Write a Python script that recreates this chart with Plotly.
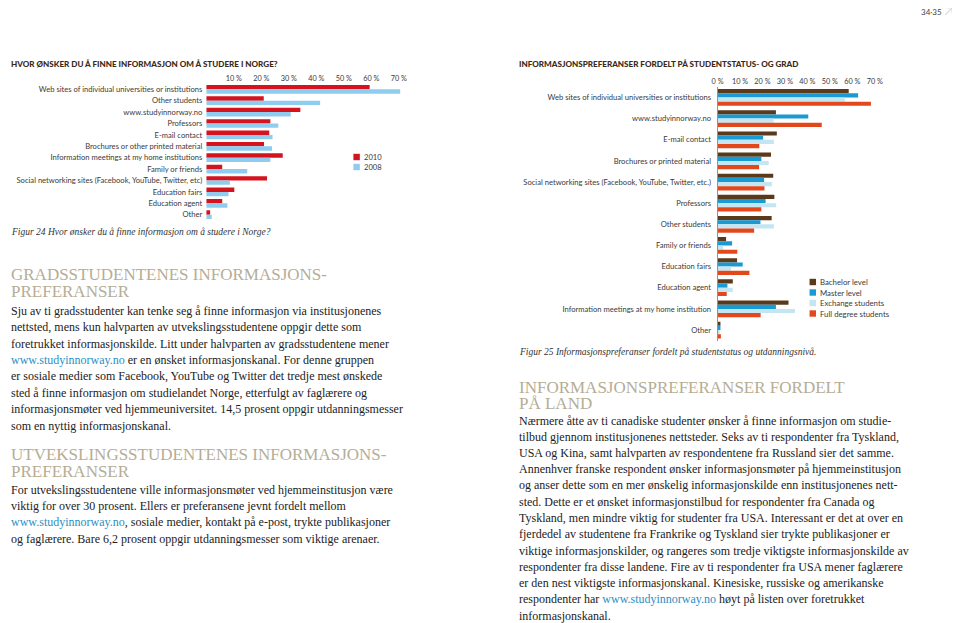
import plotly.graph_objects as go

# page body has an 8px default margin: figure is sized to fit inside the 960x623 window
MARGIN = 8
W, H = 960 - MARGIN, 623 - MARGIN

# ---------------- data ----------------
left_categories = [
    "Web sites of individual universities or institutions",
    "Other students",
    "www.studyinnorway.no",
    "Professors",
    "E-mail contact",
    "Brochures or other printed material",
    "Information meetings at my home institutions",
    "Family or friends",
    "Social networking sites (Facebook, YouTube, Twitter, etc)",
    "Education fairs",
    "Education agent",
    "Other",
]
vals_2010 = [59.4, 20.9, 34.2, 23.3, 22.9, 21.0, 27.8, 5.8, 22.1, 10.2, 5.8, 1.4]
vals_2008 = [70.5, 41.4, 30.7, 26.2, 24.1, 23.9, 23.3, 14.9, 8.6, 8.1, 7.7, 2.0]
left_series = ["2010", "2008"]
left_ticks = [10, 20, 30, 40, 50, 60, 70]

right_categories = [
    "Web sites of individual universities or institutions",
    "www.studyinnorway.no",
    "E-mail contact",
    "Brochures or printed material",
    "Social networking sites (Facebook, YouTube, Twitter, etc.)",
    "Professors",
    "Other students",
    "Family or friends",
    "Education fairs",
    "Education agent",
    "Information meetings at my home institution",
    "Other",
]
bachelor = [58.4, 26.0, 26.4, 23.8, 24.8, 25.3, 24.1, 3.8, 8.7, 6.8, 31.6, 1.3]
master = [62.6, 40.4, 20.3, 19.5, 20.7, 21.4, 19.1, 6.5, 11.2, 4.4, 26.0, 1.3]
exchange = [56.7, 25.0, 25.1, 22.8, 24.2, 26.1, 25.1, 2.5, 6.0, 6.8, 34.5, 1.0]
full_degree = [68.3, 46.4, 18.6, 18.5, 20.9, 19.5, 16.3, 8.8, 14.2, 4.1, 19.2, 1.5]
right_series = ["Bachelor level", "Master level", "Exchange students", "Full degree students"]
right_ticks = [0, 10, 20, 30, 40, 50, 60, 70]

title_left = "HVOR ØNSKER DU Å FINNE INFORMASJON OM Å STUDERE I NORGE?"
title_right = "INFORMASJONSPREFERANSER FORDELT PÅ STUDENTSTATUS- OG GRAD"
caption_left = "Figur 24 Hvor ønsker du å finne informasjon om å studere i Norge?"
caption_right = "Figur 25 Informasjonspreferanser fordelt på studentstatus og utdanningsnivå."

LINK = "<span style='color:#2b8fc4'>www.studyinnorway.no</span>"
heading1 = ["GRADSSTUDENTENES INFORMASJONS-", "PREFERANSER"]
body1 = [
    "Sju av ti gradsstudenter kan tenke seg å finne informasjon via institusjonenes",
    "nettsted, mens kun halvparten av utvekslingsstudentene oppgir dette som",
    "foretrukket informasjonskilde. Litt under halvparten av gradsstudentene mener",
    LINK + " er en ønsket informasjonskanal. For denne gruppen",
    "er sosiale medier som Facebook, YouTube og Twitter det tredje mest ønskede",
    "sted å finne informasjon om studielandet Norge, etterfulgt av faglærere og",
    "informasjonsmøter ved hjemmeuniversitet. 14,5 prosent oppgir utdanningsmesser",
    "som en nyttig informasjonskanal.",
]
heading2 = ["UTVEKSLINGSSTUDENTENES INFORMASJONS-", "PREFERANSER"]
body2 = [
    "For utvekslingsstudentene ville informasjonsmøter ved hjemmeinstitusjon være",
    "viktig for over 30 prosent. Ellers er preferansene jevnt fordelt mellom",
    LINK + ", sosiale medier, kontakt på e-post, trykte publikasjoner",
    "og faglærere. Bare 6,2 prosent oppgir utdanningsmesser som viktige arenaer.",
]
heading3 = ["INFORMASJONSPREFERANSER FORDELT", "PÅ LAND"]
body3 = [
    "Nærmere åtte av ti canadiske studenter ønsker å finne informasjon om studie-",
    "tilbud gjennom institusjonenes nettsteder. Seks av ti respondenter fra Tyskland,",
    "USA og Kina, samt halvparten av respondentene fra Russland sier det samme.",
    "Annenhver franske respondent ønsker informasjonsmøter på hjemmeinstitusjon",
    "og anser dette som en mer ønskelig informasjonskilde enn institusjonenes nett-",
    "sted. Dette er et ønsket informasjonstilbud for respondenter fra Canada og",
    "Tyskland, men mindre viktig for studenter fra USA. Interessant er det at over en",
    "fjerdedel av studentene fra Frankrike og Tyskland sier trykte publikasjoner er",
    "viktige informasjonskilder, og rangeres som tredje viktigste informasjonskilde av",
    "respondenter fra disse landene. Fire av ti respondenter fra USA mener faglærere",
    "er den nest viktigste informasjonskanal. Kinesiske, russiske og amerikanske",
    "respondenter har " + LINK + " høyt på listen over foretrukket",
    "informasjonskanal.",
]
page_number = "34·35"

# ---------------- styles ----------------
left_colors = ["#d4131f", "#8fcdf0"]
right_colors = ["#5b3a1c", "#1a9ad2", "#c4e6f3", "#e2481c"]
SANS = "Lato, 'Open Sans', sans-serif"
SERIF = "'Liberation Serif', 'DejaVu Serif', serif"
LABEL_COLOR = "#3a3a3a"
TITLE_COLOR = "#3b2a18"
HEAD_COLOR = "#b5ad95"
BODY_COLOR = "#222222"


def px_x(x):
    return (x - MARGIN) / W


def px_y(y):
    return 1 - (y - MARGIN) / H


fig = go.Figure()

# left chart bars
lw = 0.38
for i, (name, vals) in enumerate(zip(left_series, [vals_2010, vals_2008])):
    fig.add_trace(go.Bar(
        y=left_categories, x=vals, orientation="h", name=name,
        marker=dict(color=left_colors[i], line=dict(width=0)),
        width=lw, offset=-lw + i * lw,
        xaxis="x", yaxis="y", showlegend=False, hoverinfo="x+y",
    ))

# right chart bars
rw = 0.198
for i, (name, vals) in enumerate(zip(right_series, [bachelor, master, exchange, full_degree])):
    fig.add_trace(go.Bar(
        y=right_categories, x=vals, orientation="h", name=name,
        marker=dict(color=right_colors[i], line=dict(width=0)),
        width=rw, offset=-2 * rw + i * rw,
        xaxis="x2", yaxis="y2", showlegend=False, hoverinfo="x+y",
    ))

tickfont = dict(family=SANS, size=7.3, color=LABEL_COLOR)
catfont = dict(family=SANS, size=7.6, color=LABEL_COLOR)

fig.update_layout(
    width=W, height=H,
    margin=dict(l=0, r=0, t=0, b=0),
    paper_bgcolor="white", plot_bgcolor="rgba(0,0,0,0)",
    barmode="overlay",
    xaxis=dict(
        domain=[px_x(202.3), px_x(202.3 + 72 * 2.78)], range=[0, 72],
        side="top", tickvals=left_ticks, ticktext=[f"{t} %" for t in left_ticks],
        showgrid=False, zeroline=False, showline=False, ticks="",
        tickfont=tickfont, anchor="y", fixedrange=True,
    ),
    yaxis=dict(
        domain=[px_y(220.4), px_y(83.6)], range=[11.5, -0.5],
        type="category", showgrid=False, zeroline=False, showline=False, ticks="",
        tickfont=catfont, anchor="x", ticklabelstandoff=3, fixedrange=True,
    ),
    xaxis2=dict(
        domain=[px_x(719), px_x(719 + 72 * 2.27)], range=[0, 72],
        side="top", tickvals=right_ticks, ticktext=[f"{t} %" for t in right_ticks],
        showgrid=False, zeroline=False, showline=False, ticks="",
        tickfont=tickfont, anchor="y2", fixedrange=True,
    ),
    yaxis2=dict(
        domain=[px_y(340.6), px_y(86.9)], range=[11.5, -0.5],
        type="category", showgrid=False, zeroline=False,
        showline=True, linecolor="#9c9184", linewidth=1, ticks="",
        tickfont=catfont, anchor="x2", ticklabelstandoff=4, fixedrange=True,
    ),
)

annotations = []
shapes = []


def txt(x, y, s, size, color, family, xanchor="left", bold=False, italic=False):
    if bold:
        s = "<b>" + s + "</b>"
    if italic:
        s = "<i>" + s + "</i>"
    annotations.append(dict(
        x=px_x(x), y=px_y(y), xref="paper", yref="paper", text=s,
        showarrow=False, xanchor=xanchor, yanchor="middle", borderpad=0,
        font=dict(family=family, size=size, color=color),
    ))


# chart titles
txt(4, 64, title_left, 8.1, TITLE_COLOR, "Lato Black, Lato, sans-serif", bold=True)
txt(517, 64, title_right, 8.1, TITLE_COLOR, "Lato Black, Lato, sans-serif", bold=True)

# captions
txt(4, 232, caption_left, 9.5, "#333333", SERIF, italic=True)
txt(517, 352, caption_right, 9.5, "#333333", SERIF, italic=True)

# left legend
for i, name in enumerate(left_series):
    yc = 157 + i * 10
    shapes.append(dict(type="rect", xref="paper", yref="paper",
                       x0=px_x(351), x1=px_x(357.5), y0=px_y(yc + 3.2), y1=px_y(yc - 3.2),
                       fillcolor=left_colors[i], line=dict(width=0)))
    txt(361, yc, name, 7.6, LABEL_COLOR, SANS)

# right legend
for i, name in enumerate(right_series):
    yc = 282 + i * 10.5
    shapes.append(dict(type="rect", xref="paper", yref="paper",
                       x0=px_x(812), x1=px_x(818.5), y0=px_y(yc + 3.2), y1=px_y(yc - 3.2),
                       fillcolor=right_colors[i], line=dict(width=0)))
    txt(822, yc, name, 7.8, LABEL_COLOR, SANS)

# headings and body text
HEAD_SIZE = 17.0
BODY_SIZE = 12.0
LH = 16.4
for k, line in enumerate(heading1):
    txt(4, 274 + k * 17.5, line, HEAD_SIZE, HEAD_COLOR, SERIF)
for k, line in enumerate(body1):
    txt(4, 310.7 + k * LH, line, BODY_SIZE, BODY_COLOR, SERIF)
for k, line in enumerate(heading2):
    txt(4, 454 + k * 17.5, line, HEAD_SIZE, HEAD_COLOR, SERIF)
for k, line in enumerate(body2):
    txt(4, 489.5 + k * LH, line, BODY_SIZE, BODY_COLOR, SERIF)
for k, line in enumerate(heading3):
    txt(517, 387 + k * 16.8, line, HEAD_SIZE, HEAD_COLOR, SERIF)
for k, line in enumerate(body3):
    txt(517, 420.5 + k * 16.25, line, BODY_SIZE, BODY_COLOR, SERIF)

# page number and faint page icon
txt(935, 12, page_number, 8, "#444444", SANS, xanchor="center")
shapes.append(dict(type="path", xref="paper", yref="paper",
                   path=(f"M {px_x(949)},{px_y(15)} L {px_x(956)},{px_y(8)} "
                         f"M {px_x(951)},{px_y(8)} L {px_x(956)},{px_y(8)} L {px_x(956)},{px_y(13)}"),
                   line=dict(color="#dddddd", width=1.2)))

fig.update_layout(annotations=annotations, shapes=shapes)

fig.write_html("out.html")
